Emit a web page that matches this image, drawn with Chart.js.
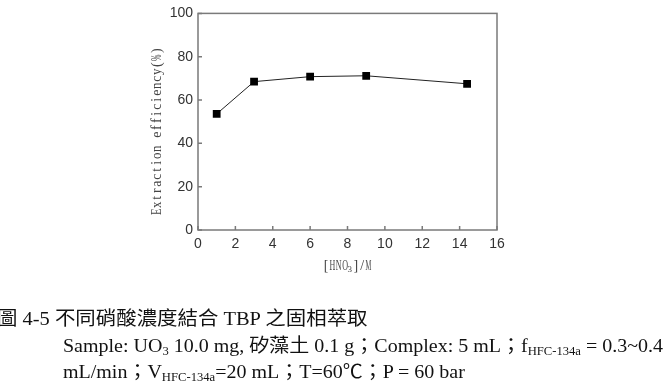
<!DOCTYPE html>
<html lang="zh-Hant">
<head>
<meta charset="UTF-8">
<title>不同硝酸濃度結合 TBP 之固相萃取</title>
<script src="https://cdn.jsdelivr.net/npm/chart.js"></script>
<style>
  html, body { margin: 0; padding: 0; background: #fff; }
  body { width: 671px; height: 388px; position: relative; overflow: hidden; }
  #chart { position: absolute; left: 0; top: 0; }
  .cap { position: absolute; white-space: nowrap; font-family: 'Liberation Serif', 'Noto Sans CJK TC', serif;
         font-size: 19px; line-height: 19px; color: #111; transform-origin: 0 0; }
  .cap sub { font-size: 12px; line-height: 0; vertical-align: -3px; }
</style>
</head>
<body>
  <canvas id="chart" width="671" height="388"></canvas>

  <div class="cap" id="cap1" data-w="370" style="left:-3px; top:309px">圖 4-5 不同硝酸濃度結合 TBP 之固相萃取</div>
  <div class="cap" id="cap2" data-w="600" style="left:63px; top:336px">Sample: UO<sub>3</sub> 10.0 mg, 矽藻土 0.1 g；Complex: 5 mL；f<sub>HFC-134a</sub> = 0.3~0.4</div>
  <div class="cap" id="cap3" data-w="402" style="left:63px; top:362px">mL/min；V<sub>HFC-134a</sub>=20 mL；T=60℃；P = 60 bar</div>

<script>
  // [HNO3] in M vs extraction efficiency in %
  const hno3 = [1, 3, 6, 9, 14.4];
  const efficiency = [53.6, 68.5, 70.8, 71.2, 67.5];
  const xRange = [0, 16];
  const yRange = [0, 100];
  const yTitle = 'Extraction efficiency(%)';
  const xTitle = ['[HNO', '3', ']/M'];

  const axisColor = '#7a7a7a';
  const titleFont = "'Liberation Serif', 'DejaVu Serif', serif";

  // half-width serif look: every character gets its own fixed-width cell
  function monoText(ctx, text, x, y, cell, size) {
    ctx.font = size + 'px ' + titleFont;
    for (const ch of text) {
      const w = ctx.measureText(ch).width;
      const k = Math.min(1, cell * 0.92 / (w || 1));
      ctx.save();
      ctx.translate(x + cell / 2, y);
      ctx.scale(k, 1);
      ctx.fillText(ch, 0, 0);
      ctx.restore();
      x += cell;
    }
    return x;
  }

  // box around the plot, inward tick marks, axis titles
  const frame = {
    id: 'frame',
    afterDraw(chart) {
      const { ctx, chartArea: a, scales: { x, y } } = chart;
      ctx.save();
      ctx.strokeStyle = axisColor;
      ctx.lineWidth = 1.5;
      ctx.strokeRect(a.left, a.top, a.right - a.left, a.bottom - a.top);
      ctx.beginPath();
      x.ticks.forEach(t => {
        const px = x.getPixelForValue(t.value);
        ctx.moveTo(px, a.bottom); ctx.lineTo(px, a.bottom - 4);
      });
      y.ticks.forEach(t => {
        const py = y.getPixelForValue(t.value);
        ctx.moveTo(a.left, py); ctx.lineTo(a.left + 4, py);
      });
      ctx.stroke();

      ctx.fillStyle = '#444';
      ctx.textBaseline = 'middle';
      ctx.textAlign = 'center';

      const cell = 7;
      ctx.save();
      ctx.translate(a.left - 40.5, (a.top + a.bottom) / 2 + 9.5);
      ctx.rotate(-Math.PI / 2);
      monoText(ctx, yTitle, -yTitle.length * cell / 2, 0, cell, 14);
      ctx.restore();

      let tx = 323, ty = a.bottom + 36;
      tx = monoText(ctx, xTitle[0], tx, ty, 6.3, 14);
      tx = monoText(ctx, xTitle[1], tx - 1, ty + 4, 5, 9);
      monoText(ctx, xTitle[2], tx + 0.5, ty, 6.3, 14);
      ctx.restore();
    }
  };

  const tickFont = { family: "'Liberation Sans', Arial, sans-serif", size: 14 };

  new Chart(document.getElementById('chart'), {
    type: 'line',
    data: {
      datasets: [{
        data: hno3.map((v, i) => ({ x: v, y: efficiency[i] })),
        borderColor: '#222',
        borderWidth: 1,
        pointStyle: 'rect',
        pointRadius: 5.5,
        pointBackgroundColor: '#000',
        pointBorderColor: '#000',
        pointBorderWidth: 0,
        tension: 0
      }]
    },
    options: {
      responsive: false,
      animation: false,
      layout: { padding: { left: 140, top: 10, right: 174, bottom: 138 } },
      plugins: { legend: { display: false }, tooltip: { enabled: false } },
      scales: {
        x: {
          type: 'linear', min: xRange[0], max: xRange[1],
          grid: { display: false, drawTicks: false },
          border: { display: false },
          ticks: { stepSize: 2, color: '#333', font: tickFont, padding: 6 },
          afterFit: s => { s.height = 20; }
        },
        y: {
          min: yRange[0], max: yRange[1],
          grid: { display: false, drawTicks: false },
          border: { display: false },
          ticks: { stepSize: 20, color: '#333', font: tickFont, padding: 5 },
          afterFit: s => { s.width = 58; }
        }
      }
    },
    plugins: [frame]
  });

  // stretch caption lines to the widths they have in the figure
  document.fonts.ready.then(() => {
    document.querySelectorAll('.cap').forEach(el => {
      el.style.transform = 'scaleX(' + (el.dataset.w / el.offsetWidth) + ')';
    });
  });
</script>
</body>
</html>
